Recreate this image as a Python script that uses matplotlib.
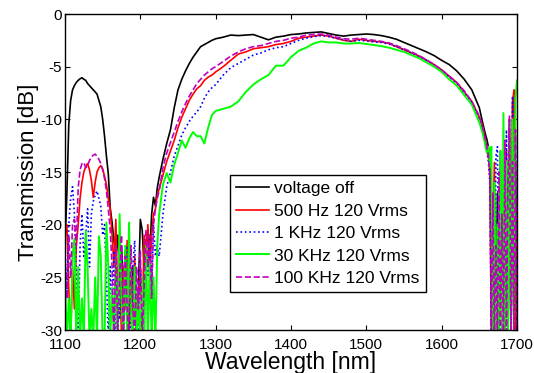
import numpy as np
import matplotlib
matplotlib.use('Agg')
import matplotlib.pyplot as plt

plt.rcParams['font.family'] = ['Liberation Sans', 'DejaVu Sans']
plt.rcParams['axes.unicode_minus'] = False

# wavelength sampling (nm): dense in the noisy band edges
wavelength = np.concatenate([np.arange(1100, 1226, 2.5),
                             np.arange(1230, 1301, 5),
                             np.arange(1310, 1651, 10),
                             np.arange(1654, 1701, 2)])

voltage_off = [
    -22, -17, -10.5, -8.2, -7.2, -6.8, -6.5, -6.3, -6.15, -6.05,
    -6.2, -6.3, -6.6, -6.8, -7.0, -7.2, -7.4, -7.6, -8.2, -8.8,
    -10.0, -11.6, -13.5, -15.2, -18.4, -19.8, -21.5, -23, -21, -24.5,
    -22, -26, -22.5, -25, -23, -27, -24, -27.5, -31, -26,
    -19.5, -20.5, -24, -22, -20.5, -23, -19, -17.4, -18.2, -16.5, -15.5,
    -13.8, -12.3, -11.0, -8.9, -7.2, -6.2, -5.4, -4.7, -4.1, -3.6, -3.1, -2.9, -2.7, -2.5, -2.35,
    -2.2, -2.0, -2.05, -2.0, -1.95, -2.2, -2.45, -2.2, -2.1, -1.95,
    -1.9, -1.8, -1.75, -1.7, -1.85, -2.0, -2.1, -2.0, -1.95, -1.9,
    -1.95, -2.05, -2.2, -2.4, -2.7, -3.0, -3.3, -3.6, -3.95, -4.4,
    -4.8, -5.4, -6.2, -7.2, -8.9,
    -10.2, -10.8, -11.4, -11.9, -12.6, -14.5, -18, -31, -22, -31, -17, -31,
    -13, -31, -20, -31, -15, -31, -10, -31, -12, -31, -14, -31]

hz500 = [
    -21, -20, -26, -31, -24, -28, -22, -20, -17.5, -16.0,
    -15.0, -14.5, -14.2, -14.8, -15.8, -17.4, -16.0, -15.0, -14.6, -14.4,
    -14.7, -15.4, -16.2, -17.5, -18.5, -21, -24, -19.5, -27, -22,
    -31, -24, -28, -21.5, -31, -25, -29, -23, -31, -27,
    -24, -30, -21, -23.5, -20, -25, -21, -19, -18.5, -17.2, -16.6,
    -15.3, -14.0, -13.0, -12.0, -10.8, -9.8, -9.0, -8.2, -7.6, -7.1, -6.8, -6.3, -6.0, -5.8, -5.5,
    -5.0, -4.4, -3.8, -3.6, -3.3, -3.2, -3.1, -2.9, -2.8, -2.6,
    -2.3, -2.2, -2.1, -2.0, -2.1, -2.3, -2.5, -2.6, -2.4, -2.5,
    -2.6, -2.65, -2.8, -3.1, -3.4, -3.7, -4.0, -4.4, -4.8, -5.3,
    -5.9, -6.5, -7.4, -8.3, -9.8,
    -10.6, -11.3, -12, -12.8, -13.5, -15, -31, -21, -14.1, -31, -24, -31,
    -16, -31, -19, -31, -13, -31, -11, -31, -8.5, -7.2, -31, -18]

khz1 = [
    -22, -27, -20, -17.5, -16.4, -19, -25, -31, -22, -19,
    -23, -21, -18.5, -24, -19, -17.8, -17.2, -16.8, -17.5, -18.2,
    -21, -20, -25, -31, -24, -28, -22.5, -31, -25, -29,
    -23, -31, -26, -22, -28, -31, -24, -21.5, -29, -31,
    -24, -27, -31, -22, -25, -21, -26, -20, -23, -22, -23,
    -19, -16.4, -15, -13.5, -12.5, -11.5, -10.8, -10.2, -9.7, -9.3, -8.8, -8.0, -7.4, -7.0, -6.7,
    -5.8, -5.1, -4.7, -4.3, -3.9, -3.7, -3.4, -3.2, -3.1, -2.8,
    -2.5, -2.3, -2.15, -2.05, -2.15, -2.3, -2.45, -2.6, -2.5, -2.55,
    -2.65, -2.7, -2.85, -3.1, -3.4, -3.7, -4.05, -4.4, -4.9, -5.4,
    -6.0, -6.6, -7.5, -8.4, -10.0,
    -10.8, -11.5, -12.2, -13, -14, -16, -31, -19, -31, -13.5, -12.6, -31,
    -17, -31, -14, -31, -11, -31, -15, -31, -7.8, -31, -12, -31]

khz30 = [
    -25, -31, -27, -31, -23, -21.3, -31, -24, -31, -27,
    -31, -20.6, -24, -31, -28, -31, -25, -31, -21.1, -23,
    -31, -31, -19.8, -24, -31, -26, -31, -23, -31, -19,
    -27, -31, -22, -31, -19.8, -28, -31, -24, -31, -27,
    -31, -25, -31, -22, -31, -23.5, -31, -25, -31, -22, -19,
    -16.2, -15.1, -16.0, -14.3, -13.2, -12.0, -12.7, -11.8, -11.2, -11.6, -11.6, -12.3, -10.8, -9.6, -9.2,
    -9.0, -8.8, -8.3, -7.4, -6.7, -6.2, -5.8, -4.9, -4.9, -4.1,
    -3.5, -3.2, -2.8, -2.6, -2.7, -2.7, -2.8, -2.8, -2.75, -2.85,
    -2.95, -3.05, -3.2, -3.4, -3.6, -3.9, -4.2, -4.6, -5.0, -5.5,
    -6.2, -6.8, -7.7, -8.6, -10.3,
    -11.2, -11.8, -12.5, -13.2, -12.6, -14.5, -12.6, -31, -16, -31, -20, -31,
    -13, -31, -9.4, -31, -14, -31, -12, -31, -10, -31, -8, -6.3]

khz100 = [
    -23, -27, -21, -25, -20, -19.5, -22, -16.5, -14.8, -14.2,
    -14.1, -14.6, -14.4, -13.9, -13.6, -13.4, -13.3, -13.5, -13.8, -14.2,
    -14.8, -15.6, -16.8, -18.5, -20.5, -24, -31, -22, -30, -25,
    -21, -31, -23, -28, -31, -22, -27, -31, -24, -28,
    -22.5, -31, -26, -20.5, -24, -21, -27, -20, -18.5, -17.5, -16.8,
    -14.6, -13.2, -12.2, -11.2, -10.2, -9.3, -8.5, -7.8, -7.2, -6.6, -6.2, -5.8, -5.5, -5.2, -5.0,
    -4.5, -4.0, -3.6, -3.3, -3.1, -3.0, -2.8, -2.6, -2.5, -2.3,
    -2.2, -2.0, -1.95, -1.9, -2.0, -2.2, -2.35, -2.4, -2.3, -2.4,
    -2.5, -2.6, -2.75, -3.0, -3.3, -3.6, -3.95, -4.35, -4.8, -5.3,
    -5.9, -6.5, -7.3, -8.3, -9.7,
    -10.6, -11.2, -11.9, -12.6, -13.4, -15.5, -31, -17, -31, -22, -31, -15,
    -31, -19, -31, -12, -31, -16, -9.7, -31, -14, -31, -11, -31]

labels = ['voltage off', '500 Hz 120 Vrms', '1 KHz 120 Vrms',
          '30 KHz 120 Vrms', '100 KHz 120 Vrms']

fig = plt.figure(figsize=(5.34, 3.73), dpi=100)
ax = fig.add_axes([65 / 534, 43 / 373, 452 / 534, 316 / 373])

ax.plot(wavelength, voltage_off, color='k', lw=1.2, label=labels[0])
ax.plot(wavelength, hz500, color='r', lw=1.2, label=labels[1])
ax.plot(wavelength, khz1, color='b', lw=1.2, ls=':', label=labels[2])
ax.plot(wavelength, khz30, color=(0, 1, 0), lw=1.4, label=labels[3])
ax.plot(wavelength, khz100, color='m', lw=1.2, ls='--', label=labels[4])

ax.set_xlim(1100, 1700)
ax.set_ylim(-30, 0)
ax.set_xticks(range(1100, 1701, 100))
ax.set_yticks(range(-30, 1, 5))
ax.tick_params(direction='in', top=True, right=True, labelsize=11, pad=2)
ax.tick_params(axis='x', pad=6)
for s in ax.spines.values():
    s.set_linewidth(1.0)

ax.set_xlabel('Wavelength [nm]', fontsize=16.5, labelpad=-1)
ax.set_ylabel('Transmission [dB]', fontsize=16, labelpad=1)

leg = ax.legend(loc='lower left', bbox_to_anchor=(0.365, 0.12), fontsize=12.5,
                frameon=True, fancybox=False, framealpha=1, edgecolor='k',
                handlelength=1.9, handletextpad=0.3, labelspacing=0.42,
                borderpad=0.35, borderaxespad=0)
leg.get_frame().set_linewidth(1.0)

fig.savefig('out.png', dpi=100)
